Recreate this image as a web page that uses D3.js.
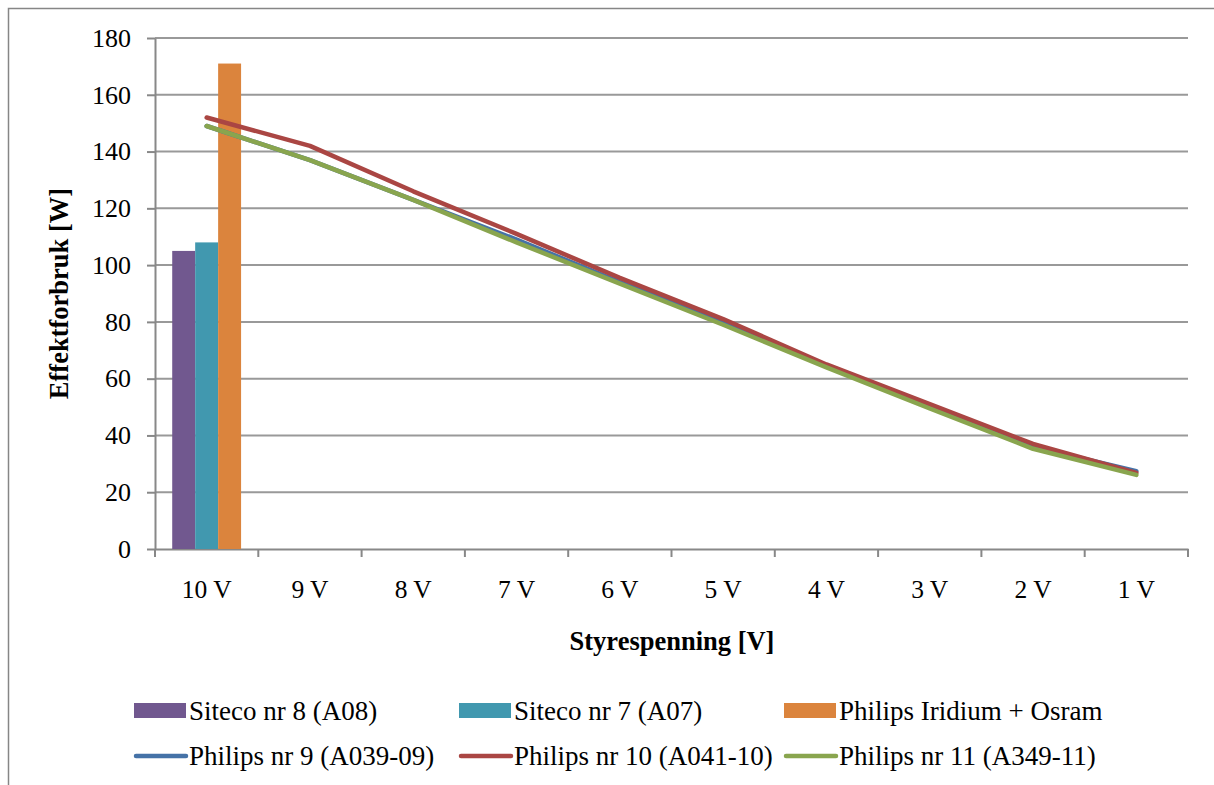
<!DOCTYPE html>
<html>
<head>
<meta charset="utf-8">
<script src="https://cdn.jsdelivr.net/npm/d3@7"></script>
<style>
  body { margin: 0; background: #fff; }
  svg { display: block; font-family: "Liberation Serif", "Times New Roman", serif; }
</style>
</head>
<body>
<div id="chart"></div>
<script>
// Data
const categories = ["10 V", "9 V", "8 V", "7 V", "6 V", "5 V", "4 V", "3 V", "2 V", "1 V"];
const barSeries = ["Siteco nr 8 (A08)", "Siteco nr 7 (A07)", "Philips Iridium + Osram"];
const barValues = [105, 108, 171]; // only measured at 10 V
const lineSeries = ["Philips nr 9 (A039-09)", "Philips nr 10 (A041-10)", "Philips nr 11 (A349-11)"];
const philips9 = [149, 137, 123, 109, 94, 80, 64.5, 50, 36, 27.4];
const philips10 = [152, 142, 126, 111, 95.5, 81, 65, 51, 37, 26.8];
const philips11 = [149, 137, 123, 108, 93.5, 79, 64, 49.5, 35.3, 26.1];
const yTicks = [0, 20, 40, 60, 80, 100, 120, 140, 160, 180];

const barColors = ["#71588F", "#4198AF", "#DB843D"];
const lineColors = ["#4572A7", "#AA4643", "#89A54E"];

const width = 1214, height = 785;
const margin = { top: 38, right: 26, bottom: 236, left: 155 };

const svg = d3.select("#chart").append("svg")
    .attr("width", width)
    .attr("height", height);

// Outer chart border (runs off the right and bottom edges)
svg.append("rect")
    .attr("x", 8.5).attr("y", 8.5)
    .attr("width", width + 20).attr("height", height + 20)
    .attr("fill", "none")
    .attr("stroke", "#868686")
    .attr("stroke-width", 1.5);

const x = d3.scaleBand()
    .domain(categories)
    .range([margin.left, width - margin.right])
    .padding(0);

const y = d3.scaleLinear()
    .domain([0, 180])
    .range([height - margin.bottom, margin.top]);

// Gridlines
svg.append("g")
    .selectAll("line")
    .data(yTicks.slice(1))
    .join("line")
    .attr("x1", margin.left)
    .attr("x2", width - margin.right)
    .attr("y1", d => y(d))
    .attr("y2", d => y(d))
    .attr("stroke", "#999")
    .attr("stroke-width", 2);

// Y axis
const yAxis = svg.append("g")
    .attr("transform", `translate(${margin.left},0)`)
    .call(d3.axisLeft(y).tickValues(yTicks).tickSize(8).tickPadding(16).tickSizeOuter(0));
yAxis.selectAll("text").attr("font-size", 26).attr("font-family", "Liberation Serif").attr("fill", "#000");
yAxis.selectAll("line").attr("stroke", "#888").attr("stroke-width", 2);
yAxis.select(".domain").attr("stroke", "#888").attr("stroke-width", 2);

// X axis
const xAxis = svg.append("g")
    .attr("transform", `translate(0,${y(0)})`)
    .call(d3.axisBottom(x).tickSize(0).tickPadding(31).tickSizeOuter(0));
xAxis.selectAll("text").attr("font-size", 25.5).attr("font-family", "Liberation Serif").attr("fill", "#000");
xAxis.select(".domain").attr("stroke", "#888").attr("stroke-width", 2);
// tick marks sit between categories
xAxis.selectAll(".boundary")
    .data(categories.concat(["end"]))
    .join("line")
    .attr("class", "boundary")
    .attr("x1", (d, i) => i < categories.length ? x(d) : x.range()[1])
    .attr("x2", (d, i) => i < categories.length ? x(d) : x.range()[1])
    .attr("y1", 0)
    .attr("y2", 8)
    .attr("stroke", "#888")
    .attr("stroke-width", 2);

// Bars (only first category)
const inner = d3.scaleBand()
    .domain(barSeries)
    .range([0, x.bandwidth()])
    .paddingInner(0)
    .paddingOuter(0.75);

svg.append("g")
    .selectAll("rect")
    .data(barValues)
    .join("rect")
    .attr("x", (d, i) => x(categories[0]) + inner(barSeries[i]))
    .attr("y", d => y(d))
    .attr("width", inner.bandwidth())
    .attr("height", d => y(0) - y(d))
    .attr("fill", (d, i) => barColors[i]);

// Lines
const line = d3.line()
    .x((d, i) => x(categories[i]) + x.bandwidth() / 2)
    .y(d => y(d));

[philips9, philips10, philips11].forEach((vals, i) => {
    svg.append("path")
        .datum(vals)
        .attr("d", line)
        .attr("fill", "none")
        .attr("stroke", lineColors[i])
        .attr("stroke-width", 4.5)
        .attr("stroke-linecap", "round")
        .attr("stroke-linejoin", "round");
});

// Axis titles
svg.append("text")
    .attr("x", 672)
    .attr("y", 650)
    .attr("text-anchor", "middle")
    .attr("font-size", 26.5)
    .attr("font-weight", "bold")
    .text("Styrespenning [V]");

svg.append("text")
    .attr("transform", `translate(68,${(y(0) + y(180)) / 2}) rotate(-90)`)
    .attr("text-anchor", "middle")
    .attr("font-size", 26.5)
    .attr("font-weight", "bold")
    .text("Effektforbruk [W]");

// Legend
const legendX = [134, 459, 784];
const legend = svg.append("g");
barSeries.forEach((name, i) => {
    legend.append("rect")
        .attr("x", legendX[i]).attr("y", 703)
        .attr("width", 52).attr("height", 15)
        .attr("fill", barColors[i]);
    legend.append("text")
        .attr("x", legendX[i] + 55).attr("y", 720)
        .attr("font-size", 27)
        .text(name);
});
lineSeries.forEach((name, i) => {
    legend.append("line")
        .attr("x1", legendX[i] + 2).attr("x2", legendX[i] + 52)
        .attr("y1", 756).attr("y2", 756)
        .attr("stroke", lineColors[i])
        .attr("stroke-width", 4.5)
        .attr("stroke-linecap", "round");
    legend.append("text")
        .attr("x", legendX[i] + 55).attr("y", 765)
        .attr("font-size", 27)
        .text(name);
});
</script>
</body>
</html>
